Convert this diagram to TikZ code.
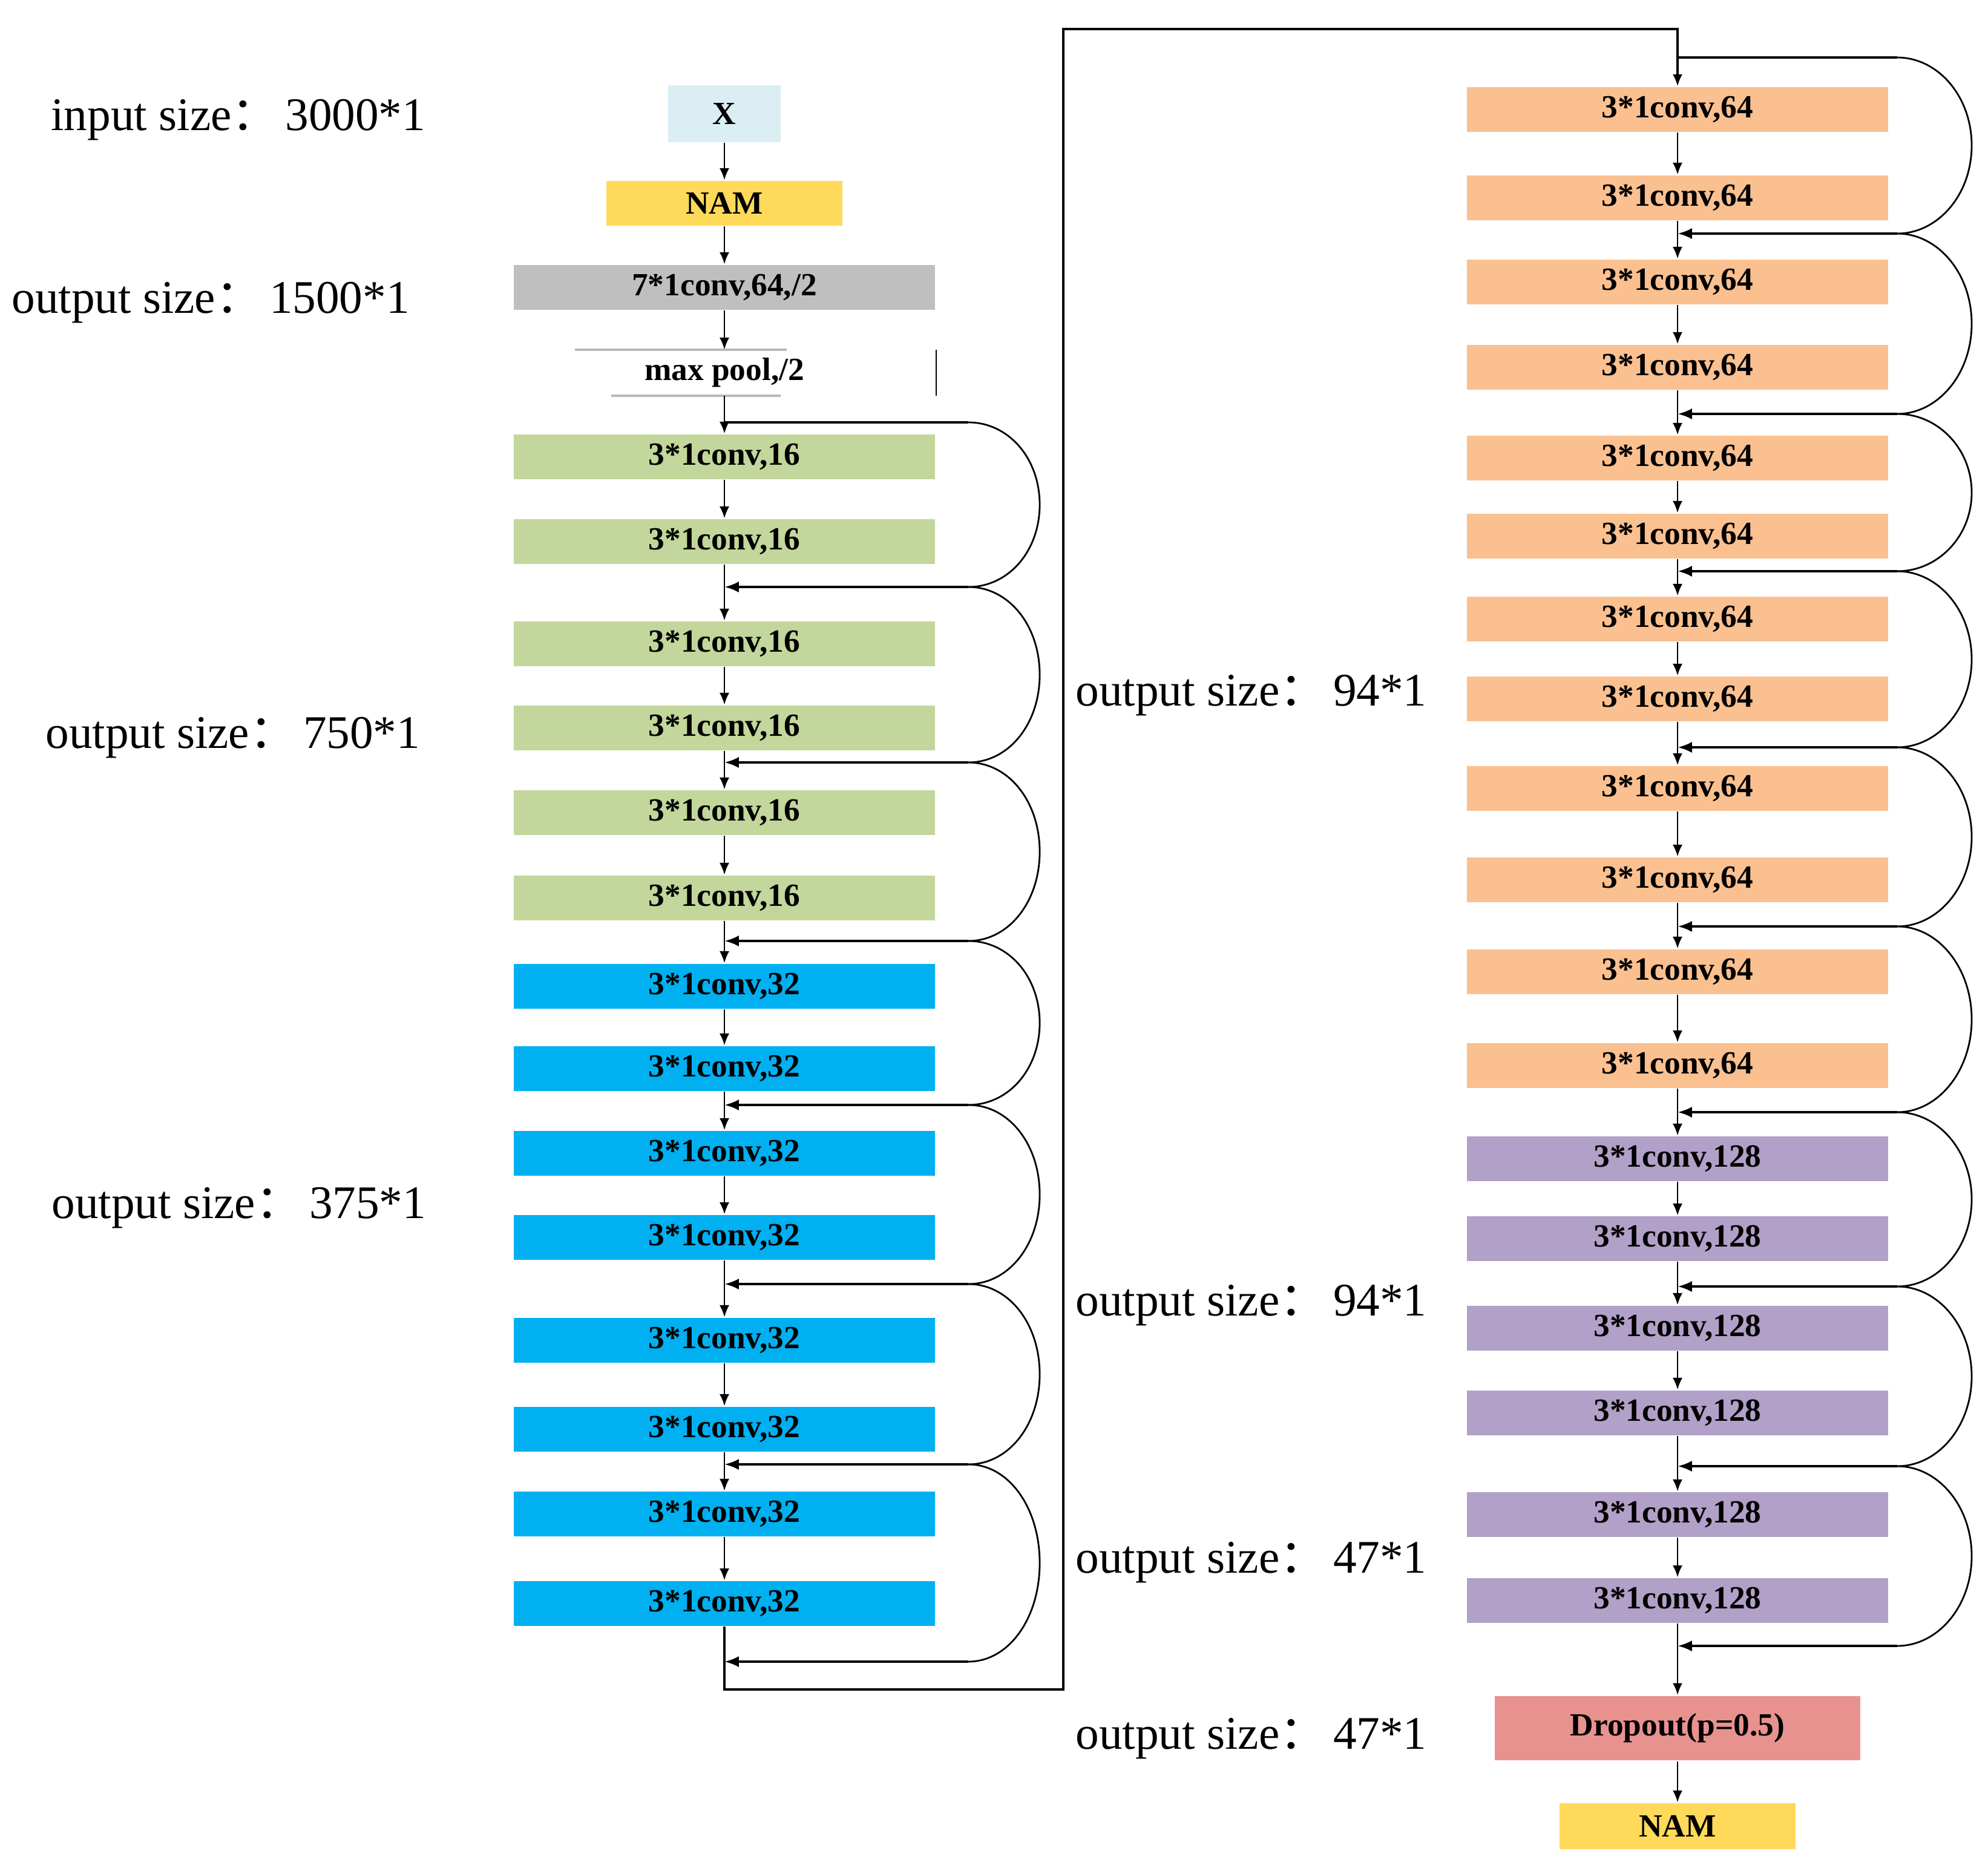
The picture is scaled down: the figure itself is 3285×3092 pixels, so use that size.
\documentclass[tikz,border=0pt]{standalone}
\usepackage{fontspec}
\setmainfont{Liberation Serif}
\newfontfamily\cjk{Noto Sans CJK SC}
\usetikzlibrary{arrows.meta,calc}
\definecolor{cX}{HTML}{DAEEF3}
\definecolor{cNAM}{HTML}{FFD95A}
\definecolor{cGray}{HTML}{BFBFBF}
\definecolor{cGreen}{HTML}{C3D69B}
\definecolor{cBlue}{HTML}{00B0F0}
\definecolor{cOrange}{HTML}{FAC090}
\definecolor{cPurple}{HTML}{B1A0C7}
\definecolor{cDrop}{HTML}{E8928F}
\newcommand\fwcolon{{\cjk ：}\hspace{0.15em}}
\begin{document}
\begin{tikzpicture}[x=0.005cm,y=-0.005cm,
  blk/.style={inner sep=0pt, minimum width=3.485cm, minimum height=0.37cm,
    font=\fontsize{7.6}{8}\selectfont\bfseries},
  lbl/.style={anchor=west, inner sep=0pt, font=\fontsize{11}{13}\selectfont},
  arr/.style={-{Latex[length=2.8pt,width=2.3pt]}, line width=0.4pt},
  curve/.style={line width=0.4pt},
  skip/.style={-{Latex[length=3.4pt,width=2.6pt]}, line width=0.6pt},
  outer/.style={-{Latex[length=2.8pt,width=2.3pt]}, line width=0.5pt}]
\useasboundingbox (0,0) rectangle (3285,3092);

% ---------- labels ----------
\node[lbl] (l1) at (83,198)   {input size\fwcolon 3000*1};
\node[lbl] (l2) at (18,500)   {output size\fwcolon 1500*1};
\node[lbl] (l3) at (74,1219)  {output size\fwcolon 750*1};
\node[lbl] (l4) at (84,1996)  {output size\fwcolon 375*1};
\node[lbl] (l5) at (1776,1149) {output size\fwcolon 94*1};
\node[lbl] (l6) at (1776,2157) {output size\fwcolon 94*1};
\node[lbl] (l7) at (1776,2582) {output size\fwcolon 47*1};
\node[lbl] (l8) at (1776,2873) {output size\fwcolon 47*1};

% ---------- left column ----------
\node[blk, fill=cX, minimum width=0.93cm, minimum height=0.47cm] (x) at (1197,188) {X};
\node[blk, fill=cNAM, minimum width=1.95cm] (nam1) at (1197,336) {NAM};
\node[blk, fill=cGray] (c7) at (1197,475) {7*1conv,64,/2};
\node[blk] (mp) at (1197,616) {max pool,/2};
\draw[gray!55, line width=0.7pt] (950,578) -- (1300,578) (1010,654) -- (1290,654);
\draw[line width=0.3pt] (mp.north east) -- (mp.south east);
\foreach \y [count=\i] in {755,895,1064,1203,1343,1484}
  \node[blk, fill=cGreen] (g\i) at (1197,\y) {3*1conv,16};
\foreach \y [count=\i] in {1630,1766,1906,2045,2215,2362,2502,2650}
  \node[blk, fill=cBlue] (b\i) at (1197,\y) {3*1conv,32};
\foreach \y [count=\i from 0] in {698,970,1260,1555,1826,2122,2420,2746}
  \coordinate (jl\i) at (1197,\y);

\foreach \a/\b in {x/nam1,nam1/c7,c7/mp,mp/g1,g1/g2,g2/g3,g3/g4,g4/g5,g5/g6,g6/b1,
  b1/b2,b2/b3,b3/b4,b4/b5,b5/b6,b6/b7,b7/b8}
  \draw[arr] (\a) -- (\b);

\draw[line width=0.6pt] (jl0) -- (1600,698);
\foreach \i/\j/\a/\b in {0/1/698/970,1/2/970/1260,2/3/1260/1555,3/4/1555/1826,
  4/5/1826/2122,5/6/2122/2420,6/7/2420/2746}{
  \pgfmathsetmacro\m{(\a+\b)/2}
  \pgfmathsetmacro\ta{\m-0.28*(\b-\a)}
  \pgfmathsetmacro\tb{\m+0.28*(\b-\a)}
  \draw[curve] (1600,\a) .. controls (1667,\a) and (1718,\ta) .. (1718,\m)
     .. controls (1718,\tb) and (1667,\b) .. (1600,\b);
  \draw[skip] (1600,\b) -- (jl\j);
}

% ---------- right column ----------
\foreach \y [count=\i] in {181,327,466,607,757,886,1023,1155,1303,1454,1606,1761}
  \node[blk, fill=cOrange] (o\i) at (2772,\y) {3*1conv,64};
\foreach \y [count=\i] in {1915,2047,2195,2335,2503,2645}
  \node[blk, fill=cPurple] (p\i) at (2772,\y) {3*1conv,128};
\node[blk, fill=cDrop, minimum width=3.025cm, minimum height=0.535cm] (dp) at (2772,2856) {Dropout(p=0.5)};
\node[blk, fill=cNAM, minimum width=1.95cm, minimum height=0.38cm] (nam2) at (2772,3018) {NAM};
\foreach \y [count=\i from 0] in {95,386,684,944,1235,1531,1838,2126,2423,2720}
  \coordinate (jr\i) at (2772,\y);

\foreach \a/\b in {o1/o2,o2/o3,o3/o4,o4/o5,o5/o6,o6/o7,o7/o8,o8/o9,o9/o10,o10/o11,o11/o12,
  o12/p1,p1/p2,p2/p3,p3/p4,p4/p5,p5/p6,p6/dp,dp/nam2}
  \draw[arr] (\a) -- (\b);

\draw[line width=0.6pt] (jr0) -- (3135,95);
\foreach \i/\j/\a/\b in {0/1/95/386,1/2/386/684,2/3/684/944,3/4/944/1235,4/5/1235/1531,
  5/6/1531/1838,6/7/1838/2126,7/8/2126/2423,8/9/2423/2720}{
  \pgfmathsetmacro\m{(\a+\b)/2}
  \pgfmathsetmacro\ta{\m-0.28*(\b-\a)}
  \pgfmathsetmacro\tb{\m+0.28*(\b-\a)}
  \draw[curve] (3135,\a) .. controls (3202,\a) and (3258,\ta) .. (3258,\m)
     .. controls (3258,\tb) and (3202,\b) .. (3135,\b);
  \draw[skip] (3135,\b) -- (jr\j);
}

% ---------- connection between columns ----------
\coordinate (c1) at (1757,2792);
\coordinate (c2) at (1757,48);
\draw[outer] (b8.south) |- (c1) -- (c2) -| (o1.north);
\end{tikzpicture}
\end{document}
